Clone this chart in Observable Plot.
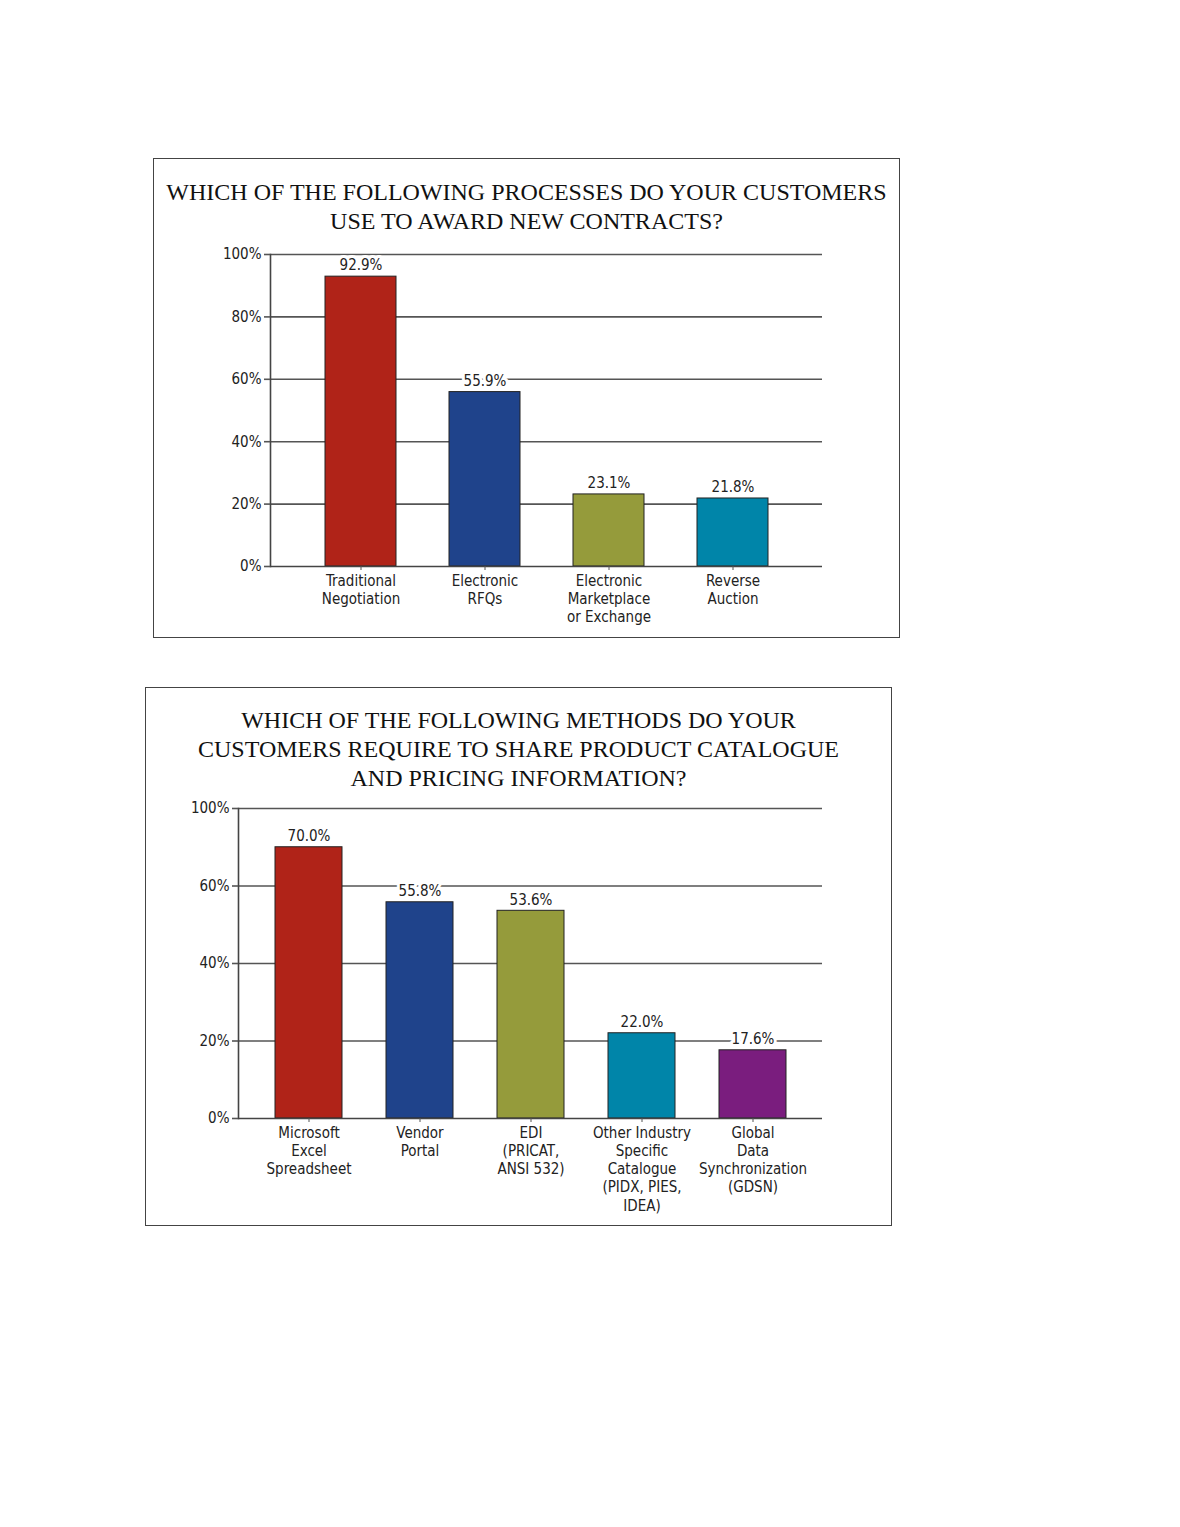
<!DOCTYPE html>
<html>
<head>
<meta charset="utf-8">
<script src="https://cdn.jsdelivr.net/npm/d3@7"></script>
<script src="https://cdn.jsdelivr.net/npm/@observablehq/plot@0.6"></script>
<style>
  html, body { margin: 0; padding: 0; background: #fff; }
  body { width: 1180px; height: 1527px; position: relative; }
  .box { position: absolute; border: 1px solid #444; background: #fff; box-sizing: border-box; }
  .title { font-family: "Liberation Serif", "Times New Roman", serif; font-size: 24px; line-height: 29px;
           text-align: center; color: #111; letter-spacing: 0; }
  .box svg { display: block; }
</style>
</head>
<body>
<div class="box" id="box1" style="left:153px; top:158px; width:747px; height:480px;">
  <div class="title" style="padding-top:19px;">WHICH OF THE FOLLOWING PROCESSES DO YOUR CUSTOMERS<br>USE TO AWARD NEW CONTRACTS?</div>
  <div id="chart1"></div>
</div>
<div class="box" id="box2" style="left:145px; top:687px; width:747px; height:539px;">
  <div class="title" style="padding-top:18px;">WHICH OF THE FOLLOWING METHODS DO YOUR<br>CUSTOMERS REQUIRE TO SHARE PRODUCT CATALOGUE<br>AND PRICING INFORMATION?</div>
  <div id="chart2"></div>
</div>
<script>
// ---- Chart 1 data ----
const categories1 = ["Traditional\nNegotiation", "Electronic\nRFQs", "Electronic\nMarketplace\nor Exchange", "Reverse\nAuction"];
const values1 = [92.9, 55.9, 23.1, 21.8];
const colors1 = ["#b02318", "#1f438b", "#959b3b", "#0085a9"];
const yTicks1 = [0, 20, 40, 60, 80, 100];
const yTickLabels1 = ["0%", "20%", "40%", "60%", "80%", "100%"];

// ---- Chart 2 data ----
const categories2 = ["Microsoft\nExcel\nSpreadsheet", "Vendor\nPortal", "EDI\n(PRICAT,\nANSI 532)", "Other Industry\nSpecific\nCatalogue\n(PIDX, PIES,\nIDEA)", "Global\nData\nSynchronization\n(GDSN)"];
const values2 = [70.0, 55.8, 53.6, 22.0, 17.6];
const colors2 = ["#b02318", "#1f438b", "#959b3b", "#0085a9", "#7a1d7e"];
const yTicks2 = [0, 20, 40, 60, 80];
const yTickLabels2 = ["0%", "20%", "40%", "60%", "100%"];

const FONT = '"Liberation Sans Narrow", "DejaVu Sans Condensed", "Roboto Condensed", sans-serif';

function makeChart({categories, values, colors, yTicks, yTickLabels, yMax, width, height, margins, padding, paddingOuter}) {
  const data = categories.map((c, i) => ({cat: c, value: values[i], color: colors[i]}));
  const labelOf = new Map(yTicks.map((t, i) => [t, yTickLabels[i]]));
  return Plot.plot({
    width, height,
    marginTop: margins[0], marginRight: margins[1], marginBottom: margins[2], marginLeft: margins[3],
    style: {fontFamily: FONT, fontSize: "15px", color: "#222", background: "#fff"},
    x: {domain: categories, paddingInner: padding, paddingOuter: paddingOuter, label: null},
    y: {domain: [0, yMax], label: null},
    marks: [
      Plot.ruleY(yTicks.filter(t => t > 0), {stroke: "#555", strokeWidth: 1.6}),
      Plot.barY(data, {x: "cat", y: "value", fill: "color", stroke: "#222", strokeWidth: 1}),
      Plot.text(data, {x: "cat", y: "value", text: d => d.value.toFixed(1) + "%", dy: -11,
        fontSize: 15, fill: "#222", stroke: "white", strokeWidth: 6, paintOrder: "stroke"}),
      Plot.ruleY([0], {stroke: "#444", strokeWidth: 1.6}),
      Plot.frame({anchor: "left", stroke: "#444", strokeWidth: 1.6}),
      Plot.axisY({ticks: yTicks, tickFormat: t => labelOf.get(t), tickSize: 6, tickPadding: 3,
        stroke: "#555", strokeWidth: 1.6, fontSize: 15, fill: "#222"}),
      Plot.axisX({tickSize: 4, tickPadding: 2, fontSize: 15, lineHeight: 1.22, fill: "#222", stroke: "#555"})
    ]
  });
}

document.getElementById("chart1").appendChild(makeChart({
  categories: categories1, values: values1, colors: colors1, yTicks: yTicks1, yTickLabels: yTickLabels1,
  yMax: 100, width: 745, height: 401, margins: [18, 77, 71, 116], padding: 0.43, paddingOuter: 0.44
}));
document.getElementById("chart2").appendChild(makeChart({
  categories: categories2, values: values2, colors: colors2, yTicks: yTicks2, yTickLabels: yTickLabels2,
  yMax: 80, width: 745, height: 431, margins: [15, 69, 106, 92], padding: 0.4, paddingOuter: 0.33
}));
</script>
</body>
</html>
